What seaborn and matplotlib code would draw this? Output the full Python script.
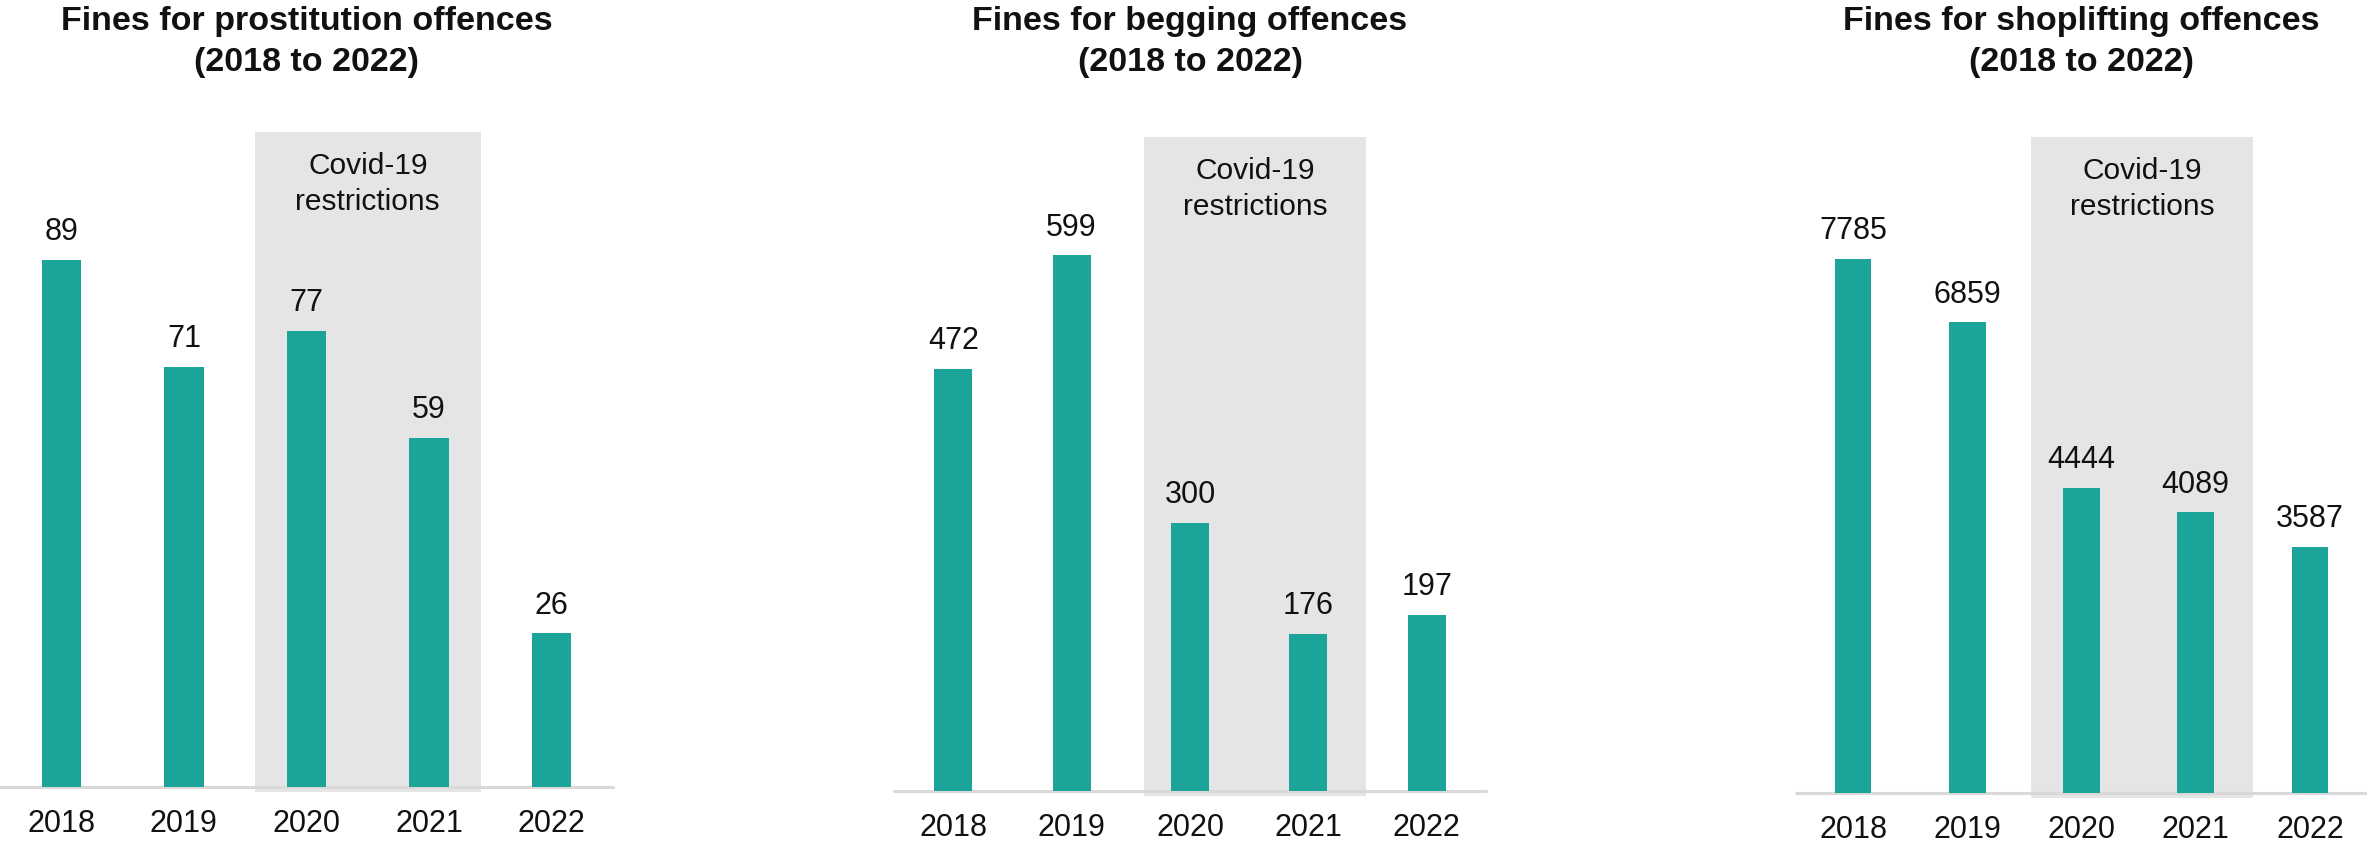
import matplotlib
matplotlib.use("Agg")
import matplotlib.pyplot as plt
import seaborn as sns

sns.set_theme(style="white")
plt.rcParams["font.family"] = ["Liberation Sans", "DejaVu Sans"]

# ---- data ----
years = ["2018", "2019", "2020", "2021", "2022"]
prostitution = [89, 71, 77, 59, 26]
begging = [472, 599, 300, 176, 197]
shoplifting = [7785, 6859, 4444, 4089, 3587]
titles = [
    "Fines for prostitution offences\n(2018 to 2022)",
    "Fines for begging offences\n(2018 to 2022)",
    "Fines for shoplifting offences\n(2018 to 2022)",
]
covid_label = "Covid-19\nrestrictions"

# ---- styling / layout ----
BAR = "#1CA39A"
SHADE = "#E5E5E5"
BASE = "#D9D9D9"
INK = "#111111"
y_tops = [110.6, 731, 9558]
spans = [(1.58, 3.42), (1.61, 3.49), (1.56, 3.50)]
rects = [
    [0.0, 1 - 787 / 846, 613 / 2367, (787 - 132) / 846],
    [894 / 2367, 1 - 791 / 846, 592 / 2367, (791 - 137) / 846],
    [1796 / 2367, 1 - 793 / 846, 571 / 2367, (793 - 137) / 846],
]

fig = plt.figure(figsize=(23.67, 8.46), dpi=100)

for values, title, ytop, (s0, s1), rect in zip(
    [prostitution, begging, shoplifting], titles, y_tops, spans, rects
):
    ax = fig.add_axes(rect)
    sns.barplot(x=years, y=values, ax=ax, color=BAR, saturation=1,
                width=0.32, linewidth=0, zorder=3)
    ax.set_xlim(-0.5, 4.5)
    ax.set_ylim(0, ytop)

    # shaded period behind the bars
    ax.axvspan(s0, s1, ymin=-0.007, ymax=1.0, color=SHADE, lw=0,
               zorder=0, clip_on=False)
    ax.text((s0 + s1) / 2, ytop * 0.97, covid_label, ha="center", va="top",
            fontsize=21.5, linespacing=1.4, color=INK, zorder=4)

    ax.axhline(0, color=BASE, lw=2.2, zorder=2, clip_on=False)
    ax.bar_label(ax.containers[0], fontsize=22, padding=9, color=INK)

    for side in ax.spines.values():
        side.set_visible(False)
    ax.set_yticks([])
    ax.set_xlabel("")
    ax.set_ylabel("")
    ax.tick_params(axis="x", length=0, pad=16, labelsize=22, labelcolor=INK)
    ax.patch.set_alpha(0)

    cx = rect[0] + rect[2] / 2
    fig.text(cx, 1 - 6 / 846, title, ha="center", va="top", fontsize=24.5,
             fontweight="bold", linespacing=1.42, color=INK)

fig.savefig("out.png", dpi=100)
